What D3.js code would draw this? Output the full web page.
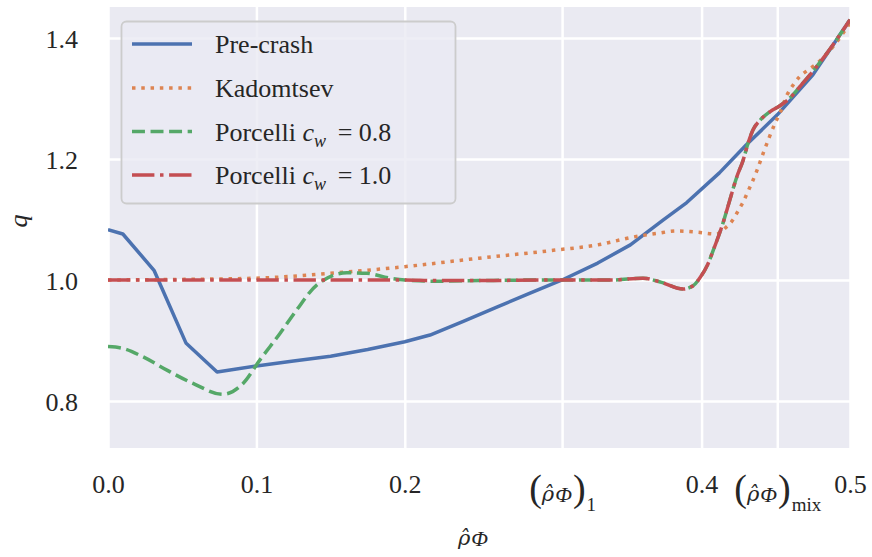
<!DOCTYPE html>
<html>
<head>
<meta charset="utf-8">
<script src="https://cdn.jsdelivr.net/npm/d3@7"></script>
<style>
  body { margin: 0; background: #ffffff; }
  svg { display: block; }
</style>
</head>
<body>
<svg id="chart" width="872" height="557"></svg>
<script>
// Safety factor profiles q(rho_Phi) before and after the sawtooth crash.
const preCrashRho = [0, 0.01, 0.031, 0.0525, 0.0735, 0.1, 0.125, 0.15, 0.175, 0.2, 0.217, 0.239, 0.262, 0.284, 0.306, 0.33, 0.352, 0.374, 0.39, 0.412, 0.43, 0.451, 0.475, 0.5];
const preCrashQ   = [1.083, 1.076, 1.016, 0.896, 0.848, 0.858, 0.866, 0.874, 0.885, 0.898, 0.909, 0.931, 0.955, 0.978, 1.0, 1.028, 1.058, 1.099, 1.128, 1.177, 1.223, 1.273, 1.339, 1.43];

const kadomtsevRho = [0, 0.05, 0.1, 0.15, 0.2, 0.25, 0.3, 0.33, 0.354, 0.37, 0.383, 0.397, 0.41, 0.416, 0.421, 0.425, 0.428, 0.431, 0.437, 0.4416, 0.4495, 0.4528, 0.4576, 0.4616, 0.466, 0.4717, 0.4778, 0.49, 0.5];
const kadomtsevQ   = [1.0, 1.001, 1.003, 1.011, 1.022, 1.036, 1.049, 1.058, 1.071, 1.077, 1.081, 1.079, 1.076, 1.086, 1.099, 1.116, 1.129, 1.145, 1.179, 1.21, 1.259, 1.276, 1.306, 1.322, 1.336, 1.347, 1.358, 1.39, 1.425];

const porcelli08Rho = [0, 0.01, 0.0236, 0.0397, 0.0573, 0.0775, 0.091, 0.1024, 0.116, 0.127, 0.1408, 0.161, 0.1745, 0.19, 0.2, 0.22, 0.25, 0.3, 0.34, 0.3605, 0.373, 0.3875, 0.394, 0.399, 0.404, 0.408, 0.4144, 0.419, 0.4238, 0.428, 0.4313, 0.4346, 0.4394, 0.446, 0.4528, 0.4596, 0.466, 0.473, 0.4845, 0.5];
const porcelli08Q   = [0.89, 0.887, 0.873, 0.851, 0.829, 0.811, 0.829, 0.868, 0.912, 0.95, 0.992, 1.012, 1.011, 1.003, 1.0, 0.998, 0.999, 1.0, 1.0, 1.003, 0.996, 0.985, 0.99, 1.004, 1.025, 1.05, 1.094, 1.132, 1.171, 1.198, 1.226, 1.248, 1.264, 1.278, 1.288, 1.301, 1.319, 1.339, 1.375, 1.43];

const porcelli10Rho = [0, 0.1, 0.19, 0.2, 0.22, 0.25, 0.3, 0.34, 0.3605, 0.373, 0.3875, 0.394, 0.399, 0.404, 0.408, 0.4144, 0.419, 0.4238, 0.428, 0.4313, 0.4346, 0.4394, 0.446, 0.4528, 0.4596, 0.466, 0.473, 0.4845, 0.5];
const porcelli10Q   = [1.0, 1.0, 1.0, 1.0, 0.999, 0.999, 1.0, 1.0, 1.003, 0.996, 0.985, 0.99, 1.004, 1.025, 1.05, 1.094, 1.132, 1.171, 1.198, 1.226, 1.248, 1.264, 1.278, 1.288, 1.301, 1.319, 1.339, 1.375, 1.43];

// Radii of the q = 1 surface and of the mixing region, shown as extra ticks.
const rhoQ1  = 0.306;
const rhoMix = 0.451;

const xTickValues = [0, 0.1, 0.2, rhoQ1, 0.4, rhoMix, 0.5];
const yTickValues = [0.8, 1.0, 1.2, 1.4];

const seriesLabels = ["Pre-crash", "Kadomtsev", "Porcelli c_w = 0.8", "Porcelli c_w = 1.0"];

// ---- layout ----
const SERIF = '"Liberation Serif", "Times New Roman", serif';
const MATH = '"DejaVu Serif", serif';
const INK = "#262626";
const svg = d3.select("#chart");
const plot = { left: 108, right: 850, top: 7, bottom: 448 };
const x = d3.scaleLinear().domain([0, 0.5]).range([plot.left, plot.right]);
const y = d3.scaleLinear().domain([0.7223, 1.4512]).range([plot.bottom, plot.top]);

const palette = ["#4c72b0", "#dd8452", "#55a868", "#c44e52"];
const lw = 3.5;
const dashes = [null, `${1 * lw} ${1.65 * lw}`, `${3.7 * lw} ${1.6 * lw}`, `${6.4 * lw} ${1.6 * lw} ${1 * lw} ${1.6 * lw}`];

// axes background
svg.append("rect")
  .attr("x", plot.left).attr("y", plot.top)
  .attr("width", plot.right - plot.left).attr("height", plot.bottom - plot.top)
  .attr("fill", "#eaeaf2");

// grid
const gridX = svg.append("g")
  .attr("transform", `translate(0,${plot.bottom})`)
  .call(d3.axisBottom(x).tickValues(xTickValues).tickSize(-(plot.bottom - plot.top)).tickFormat(""));
const gridY = svg.append("g")
  .attr("transform", `translate(${plot.left},0)`)
  .call(d3.axisLeft(y).tickValues(yTickValues).tickSize(-(plot.right - plot.left)).tickFormat(""));
[gridX, gridY].forEach(g => {
  g.select(".domain").remove();
  g.selectAll(".tick text").remove();
  g.selectAll(".tick line").attr("stroke", "#ffffff").attr("stroke-width", 2.5);
});

// curves
svg.append("clipPath").attr("id", "plotclip").append("rect")
  .attr("x", plot.left).attr("y", plot.top)
  .attr("width", plot.right - plot.left).attr("height", plot.bottom - plot.top);

const series = [
  { rho: preCrashRho, q: preCrashQ, curve: d3.curveLinear },
  { rho: kadomtsevRho, q: kadomtsevQ, curve: d3.curveMonotoneX },
  { rho: porcelli08Rho, q: porcelli08Q, curve: d3.curveMonotoneX },
  { rho: porcelli10Rho, q: porcelli10Q, curve: d3.curveMonotoneX }
];

const curves = svg.append("g").attr("clip-path", "url(#plotclip)");
series.forEach((s, i) => {
  const pts = s.rho.map((r, k) => [r, s.q[k]]);
  curves.append("path")
    .datum(pts)
    .attr("fill", "none")
    .attr("stroke", palette[i])
    .attr("stroke-width", lw)
    .attr("stroke-dasharray", dashes[i])
    .attr("stroke-linecap", "butt")
    .attr("stroke-linejoin", "round")
    .attr("d", d3.line().x(d => x(d[0])).y(d => y(d[1])).curve(s.curve));
});

// ---- tick labels ----
const fs = 26;
const xAxis = svg.append("g")
  .attr("transform", `translate(0,${plot.bottom})`)
  .call(d3.axisBottom(x).tickValues(xTickValues).tickSize(0).tickPadding(0).tickFormat(d3.format(".1f")));
xAxis.select(".domain").remove();
xAxis.selectAll(".tick text")
  .attr("font-size", fs).attr("fill", INK)
  .attr("y", 45).attr("dy", 0);

// rho-hat with a Phi subscript, written into a text element
function hatRho(textSel, rhoSize, phiSize, phiDy) {
  textSel.append("tspan").style("font-family", MATH).attr("font-style", "italic")
    .attr("font-size", rhoSize).text("\u03C1\u0302");
  textSel.append("tspan").attr("font-style", "italic").attr("font-size", phiSize)
    .attr("dy", phiDy).attr("dx", 1).text("Φ");
}

xAxis.selectAll(".tick text").each(function(d) {
  if (d !== rhoQ1 && d !== rhoMix) return;
  const t = d3.select(this).text("").attr("y", 53);
  t.append("tspan").attr("font-size", 38).text("(");
  hatRho(t, 21, 22, 1);
  t.append("tspan").attr("font-size", 38).attr("dy", -1).attr("dx", 1).text(")");
  t.append("tspan").attr("font-size", 19).attr("dy", 10).attr("dx", 1).text(d === rhoQ1 ? "1" : "mix");
});

const yAxis = svg.append("g")
  .attr("transform", `translate(${plot.left},0)`)
  .call(d3.axisLeft(y).tickValues(yTickValues).tickSize(0).tickPadding(30).tickFormat(d3.format(".1f")));
yAxis.select(".domain").remove();
yAxis.selectAll(".tick text").attr("font-size", fs).attr("fill", INK).attr("dy", "0.36em");

// axis titles
const xt = svg.append("text").attr("x", 473).attr("y", 545).attr("text-anchor", "middle").attr("fill", INK);
hatRho(xt, 21, 22, 1);

svg.append("text")
  .attr("transform", "translate(27,221) rotate(-90)")
  .attr("text-anchor", "middle")
  .attr("fill", INK)
  .attr("font-size", 26)
  .attr("font-style", "italic")
  .text("q");

// ---- legend ----
const legend = svg.append("g");
legend.append("rect")
  .attr("x", 121.5).attr("y", 21.5).attr("width", 334).attr("height", 182)
  .attr("rx", 5).attr("ry", 5)
  .attr("fill", "#eaeaf2").attr("fill-opacity", 0.8)
  .attr("stroke", "#cccccc").attr("stroke-width", 1.8);

const rowY = [44, 88, 131.5, 175];
seriesLabels.forEach((label, i) => {
  legend.append("line")
    .attr("x1", 132).attr("x2", 192).attr("y1", rowY[i]).attr("y2", rowY[i])
    .attr("stroke", palette[i]).attr("stroke-width", lw)
    .attr("stroke-dasharray", dashes[i]);
  const t = legend.append("text").attr("x", 215).attr("y", rowY[i] + 9)
    .attr("font-size", fs).attr("fill", INK);
  const parts = label.split("c_w");
  if (parts.length === 1) {
    t.text(label);
  } else {
    t.append("tspan").text(parts[0]);
    t.append("tspan").attr("font-style", "italic").text("c");
    t.append("tspan").attr("font-style", "italic").attr("font-size", 18).attr("dy", 6).text("w");
    t.append("tspan").attr("dy", -6).text(parts[1].replace(" = ", "\u2009 = "));
  }
});

// every label uses the serif face (the math glyph spans keep their own)
svg.selectAll("text").style("font-family", SERIF);
</script>
</body>
</html>
